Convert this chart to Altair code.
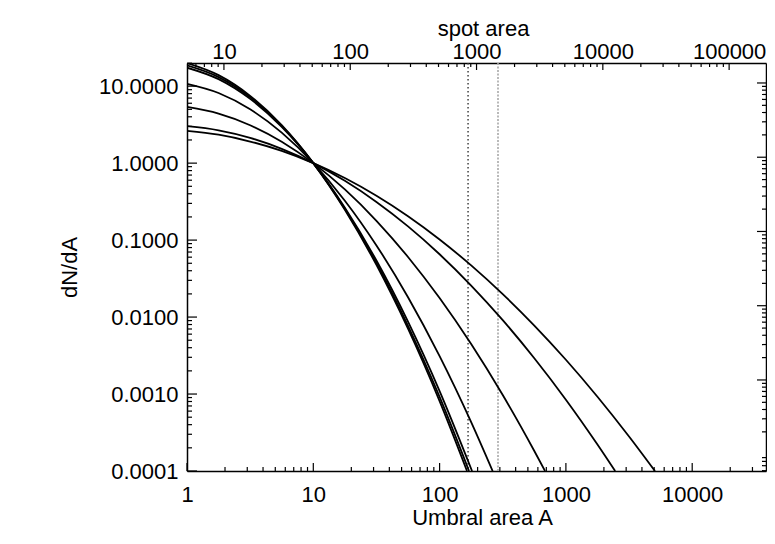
import altair as alt
import pandas as pd

# ---------------- data ----------------
# seven model curves: umbral area A and dN/dA
curve1_A = [1, 1.778, 3.162, 5.623, 10, 17.78, 31.62, 56.23, 100, 164.8]
curve1_y = [19.95, 13.90, 7.48, 3.11, 1.0, 0.248, 0.0476, 0.00706, 0.000809, 0.0001]

curve2_A = [1, 1.778, 3.162, 5.623, 10, 17.78, 31.62, 56.23, 100, 171.0]
curve2_y = [18.62, 13.12, 7.18, 3.04, 1.0, 0.2547, 0.0504, 0.00771, 0.000916, 0.0001]

curve3_A = [1, 1.778, 3.162, 5.623, 10, 17.78, 31.62, 56.23, 100, 180.7]
curve3_y = [17.38, 12.33, 6.84, 2.96, 1.0, 0.2636, 0.0543, 0.00873, 0.001094, 0.0001]

curve4_A = [1, 1.778, 3.162, 5.623, 10, 17.78, 31.62, 56.23, 100, 177.8, 263.0]
curve4_y = [10.72, 8.15, 5.01, 2.49, 1.0, 0.3251, 0.0853, 0.01811, 0.00311, 0.000432, 0.0001]

curve5_A = [1, 1.778, 3.162, 5.623, 10, 17.78, 31.62, 56.23, 100, 177.8, 316.2, 562.3, 683.9]
curve5_y = [5.37, 4.40, 3.11, 1.90, 1.0, 0.455, 0.1782, 0.0604, 0.01766, 0.00446, 0.00097, 0.000182, 0.0001]

curve6_A = [1, 1.778, 3.162, 5.623, 10, 17.78, 31.62, 56.23, 100, 177.8, 316.2, 562.3, 1000, 1778, 2455]
curve6_y = [3.02, 2.67, 2.13, 1.535, 1.0, 0.589, 0.313, 0.1507, 0.0655, 0.0257, 0.00912, 0.00292,
            0.000845, 0.000221, 0.0001]

curve7_A = [1, 1.778, 3.162, 5.623, 10, 17.78, 31.62, 56.23, 100, 177.8, 316.2, 562.3, 1000, 1778, 3162, 5070]
curve7_y = [2.63, 2.34, 1.91, 1.442, 1.0, 0.640, 0.3767, 0.2042, 0.1019, 0.0469, 0.01986, 0.00776,
            0.00279, 0.000923, 0.000281, 0.0001]

# vertical dotted markers (umbral area)
marker_dark_A = [168]
marker_light_A = [290]

# axis ticks / labels
x_major = [1, 10, 100, 1000, 10000]
x_minor = [m * 10 ** k for k in range(0, 4) for m in range(2, 10)] + [20000, 30000]
y_major = [0.0001, 0.001, 0.01, 0.1, 1, 10]
y_minor = [m * 10.0 ** k for k in range(-4, 1) for m in range(2, 10)] + [19.9]
spot_major = [10, 100, 1000, 10000, 100000]
spot_minor = [6, 7, 8, 9] + [m * 10 ** k for k in range(1, 5) for m in range(2, 10)]
right_major = [1, 10, 100, 1000, 10000]
right_minor = [0.06, 0.07, 0.08, 0.09] + [m * 10.0 ** k for k in range(-1, 4) for m in range(2, 10)]

SPOT_RATIO = 5.1          # spot area / umbral area
X_DOMAIN = [1, 38400]
Y_DOMAIN = [0.0001, 20]
SPOT_DOMAIN = [X_DOMAIN[0] * SPOT_RATIO, X_DOMAIN[1] * SPOT_RATIO]
RIGHT_DOMAIN = [0.0594, 18580]

W, H = 579, 408
FONT = "Liberation Sans"
FS = 22

curves = [curve1_A, curve2_A, curve3_A, curve4_A, curve5_A, curve6_A, curve7_A]
vals = [curve1_y, curve2_y, curve3_y, curve4_y, curve5_y, curve6_y, curve7_y]
rows = []
for i, (a_list, y_list) in enumerate(zip(curves, vals)):
    for a, y in zip(a_list, y_list):
        rows.append({"curve": f"c{i+1}", "A": a, "dNdA": y})
df = pd.DataFrame(rows)

xscale = alt.Scale(type="log", domain=X_DOMAIN)
yscale = alt.Scale(type="log", domain=Y_DOMAIN)

xaxis = alt.Axis(orient="bottom", values=x_major, format="d", ticks=False, tickSize=0,
                 labelPadding=13, labelFlush=False, labelOverlap=False, grid=False,
                 labelFont=FONT, labelFontSize=FS, labelColor="black",
                 domainColor="black", domainWidth=1.5,
                 title="Umbral area A", titleFont=FONT, titleFontSize=FS, titleFontWeight="normal",
                 titleColor="black", titleX=295, titleY=53, titleBaseline="alphabetic", titleAlign="center")
yaxis = alt.Axis(orient="left", values=y_major, format=".4f", ticks=False, tickSize=0,
                 labelPadding=9, labelFlush=False, labelOverlap=False, grid=False,
                 labelFont=FONT, labelFontSize=FS, labelColor="black",
                 domainColor="black", domainWidth=1.5,
                 title="dN/dA", titleFont=FONT, titleFontSize=FS, titleFontWeight="normal",
                 titleColor="black", titleAngle=270, titleX=-118, titleY=H / 2,
                 titleBaseline="middle", titleAlign="center")

X = alt.X("A:Q", scale=xscale, axis=xaxis)
Y = alt.Y("dNdA:Q", scale=yscale, axis=yaxis)

lines = alt.Chart(df).mark_line(color="black", strokeWidth=1.8, interpolate="monotone", clip=True).encode(
    x=X, y=Y, detail="curve:N")

dark = alt.Chart(pd.DataFrame({"A": marker_dark_A})).mark_rule(
    color="#333333", strokeWidth=1.4, strokeDash=[1.5, 2.5]).encode(x=X)
light = alt.Chart(pd.DataFrame({"A": marker_light_A})).mark_rule(
    color="#a8a8a8", strokeWidth=1.6, strokeDash=[2, 1.5]).encode(x=X)

def xticks(values, length):
    return alt.Chart(pd.DataFrame({"A": values})).mark_rule(color="black", strokeWidth=1.2).encode(
        x=X, y=alt.value(H), y2=alt.value(H - length))

def yticks(values, length):
    return alt.Chart(pd.DataFrame({"dNdA": values})).mark_rule(color="black", strokeWidth=1.2).encode(
        y=Y, x=alt.value(0), x2=alt.value(length))

def topticks(values, length):
    return alt.Chart(pd.DataFrame({"spot": values})).transform_calculate(
        A=f"datum.spot / {SPOT_RATIO}").mark_rule(color="black", strokeWidth=1.2).encode(
        x=X, y=alt.value(0), y2=alt.value(length))

main = alt.layer(
    xticks(x_major, 8), xticks(x_minor, 4),
    yticks(y_major, 10), yticks(y_minor, 5),
    topticks(spot_major, 7), topticks(spot_minor, 4),
    dark, light, lines,
)

# right-hand axis (unlabelled, inward ticks)
raxis = alt.Axis(orient="right", labels=False, ticks=False, tickSize=0, grid=False, title=None,
                 domainColor="black", domainWidth=1.5)
RY = alt.Y("R:Q", scale=alt.Scale(type="log", domain=RIGHT_DOMAIN), axis=raxis)
right = alt.layer(
    alt.Chart(pd.DataFrame({"R": right_major})).mark_rule(color="black", strokeWidth=1.2).encode(
        y=RY, x=alt.value(W), x2=alt.value(W - 9)),
    alt.Chart(pd.DataFrame({"R": right_minor})).mark_rule(color="black", strokeWidth=1.2).encode(
        y=RY, x=alt.value(W), x2=alt.value(W - 4)),
)

# top axis: spot area
taxis = alt.Axis(orient="top", values=spot_major, format="d", ticks=False, tickSize=0,
                 labelPadding=0, labelFlush=False, labelOverlap=False, grid=False,
                 labelFont=FONT, labelFontSize=FS, labelColor="black",
                 domainColor="black", domainWidth=1.5,
                 title="spot area", titleFont=FONT, titleFontSize=FS, titleFontWeight="normal",
                 titleColor="black", titleX=296, titleY=-28, titleBaseline="alphabetic", titleAlign="center")
top = alt.Chart(pd.DataFrame({"spot": spot_major})).mark_point(opacity=0).encode(
    x=alt.X("spot:Q", scale=alt.Scale(type="log", domain=SPOT_DOMAIN), axis=taxis),
    y=alt.value(0))

chart = alt.layer(main, right, top).resolve_scale(x="independent", y="independent").properties(
    width=W, height=H,
    autosize=alt.AutoSizeParams(type="none"),
    padding={"left": 179, "top": 55, "right": 1, "bottom": 65},
    background="white",
).configure_view(stroke=None)

chart.save("out.html", embed_options={"renderer": "svg", "actions": False})
